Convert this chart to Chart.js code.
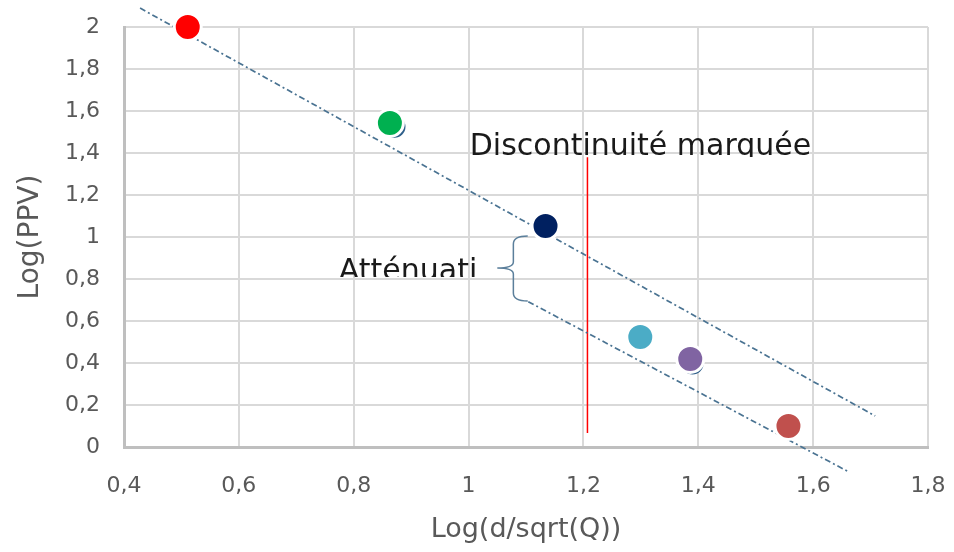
<!DOCTYPE html>
<html>
<head>
<meta charset="utf-8">
<script src="https://cdn.jsdelivr.net/npm/chart.js@4"></script>
<style>
  html, body { margin: 0; padding: 0; background: #fff; }
  canvas { display: block; }
</style>
</head>
<body>
<canvas id="chart" width="954" height="552"></canvas>
<script>
// mesures (x = Log(d/sqrt(Q)), y = Log(PPV))
const pointX = [0.511, 0.863, 1.134, 1.299, 1.386, 1.557];
const pointY = [2.0, 1.543, 1.052, 0.524, 0.419, 0.10];
const pointColors = ["#ff0000", "#00b050", "#002060", "#4bacc6", "#8064a2", "#c0504d"];

// petites ombres sombres derrière deux points
const shadowX = [0.871, 1.390];
const shadowY = [1.525, 0.398];

// droites d'atténuation (début, fin)
const upperLineX = [0.428, 1.708];
const upperLineY = [2.09, 0.148];
const lowerLineX = [1.104, 1.663];
const lowerLineY = [0.692, -0.12];

// discontinuité
const breakX = [1.207, 1.207];
const breakY = [0.067, 1.38];

// accolade : x bout, x dos, x pointe / y haut, milieu, bas
const braceX = [1.103, 1.078, 1.050];
const braceY = [1.005, 0.852, 0.695];

const xTickLabels = ["0,4", "0,6", "0,8", "1", "1,2", "1,4", "1,6", "1,8"];
const yTickLabels = ["0", "0,2", "0,4", "0,6", "0,8", "1", "1,2", "1,4", "1,6", "1,8", "2"];

const toPts = (xs, ys) => xs.map((x, i) => ({ x: x, y: ys[i] }));

const dashStyle = {
  borderColor: "#4a7392",
  borderWidth: 1.7,
  borderDash: [6, 3, 2, 3],
  pointRadius: 0,
  showLine: true,
  fill: false,
  clip: false
};

const annotations = {
  id: "annotations",
  afterDatasetsDraw(chart) {
    const c = chart.ctx;
    const xs = chart.scales.x;
    const ys = chart.scales.y;

    // accolade
    const xe = xs.getPixelForValue(braceX[0]);
    const xb = xs.getPixelForValue(braceX[1]);
    const xt = xs.getPixelForValue(braceX[2]);
    const yt = ys.getPixelForValue(braceY[0]);
    const ym = ys.getPixelForValue(braceY[1]);
    const yb = ys.getPixelForValue(braceY[2]);
    c.save();
    c.strokeStyle = "#5b7f9b";
    c.lineWidth = 1.5;
    c.beginPath();
    c.moveTo(xe, yt);
    c.quadraticCurveTo(xb, yt, xb, yt + 8);
    c.lineTo(xb, ym - 6);
    c.quadraticCurveTo(xb, ym, xt, ym);
    c.quadraticCurveTo(xb, ym, xb, ym + 6);
    c.lineTo(xb, yb - 8);
    c.quadraticCurveTo(xb, yb, xe, yb);
    c.stroke();
    c.restore();

    // textes (coupés comme dans la figure)
    c.save();
    c.font = "30px 'DejaVu Sans'";
    c.fillStyle = "#1a1a1a";
    c.textBaseline = "alphabetic";
    let x0 = xs.getPixelForValue(1.002);
    let y0 = ys.getPixelForValue(1.39);
    c.save();
    c.beginPath();
    c.rect(x0 - 5, y0 - 40, 400, 42);
    c.clip();
    c.fillText("Discontinuité marquée", x0, y0);
    c.restore();

    x0 = xs.getPixelForValue(0.774);
    y0 = ys.getPixelForValue(0.795);
    c.save();
    c.beginPath();
    c.rect(x0 - 5, y0 - 30, xs.getPixelForValue(1.016) - x0 + 5, 27);
    c.clip();
    c.fillText("Atténuation", x0, y0);
    c.restore();
    c.restore();
  }
};

new Chart(document.getElementById("chart").getContext("2d"), {
  type: "scatter",
  data: {
    datasets: [
      {
        label: "mesures",
        data: toPts(pointX, pointY),
        backgroundColor: pointColors,
        borderColor: "#ffffff",
        borderWidth: 3,
        pointRadius: 13.5,
        clip: false
      },
      {
        label: "ombre",
        data: toPts(shadowX, shadowY),
        backgroundColor: "#2f5f8a",
        borderWidth: 0,
        pointRadius: 11,
        clip: false
      },
      Object.assign({ label: "haut", data: toPts(upperLineX, upperLineY) }, dashStyle),
      Object.assign({ label: "bas", data: toPts(lowerLineX, lowerLineY) }, dashStyle),
      {
        label: "discontinuité",
        data: toPts(breakX, breakY),
        showLine: true,
        borderColor: "#ff0000",
        borderWidth: 1.5,
        pointRadius: 0
      }
    ]
  },
  options: {
    responsive: false,
    animation: false,
    layout: { autoPadding: false, padding: { top: 27, right: 26, left: 0, bottom: 0 } },
    plugins: {
      legend: { display: false },
      tooltip: { enabled: false }
    },
    scales: {
      x: {
        type: "linear",
        min: 0.4,
        max: 1.8,
        afterFit: (s) => { s.height = 105; },
        ticks: {
          stepSize: 0.2,
          padding: 0,
          color: "#595959",
          font: { family: "'DejaVu Sans'", size: 22 },
          callback: (v, i) => xTickLabels[i]
        },
        grid: { color: "#d9d9d9", lineWidth: 2, drawTicks: true, tickLength: 26, tickColor: "rgba(0,0,0,0)" },
        border: { color: "#bfbfbf", width: 3 },
        title: {
          display: true,
          text: "Log(d/sqrt(Q))",
          color: "#595959",
          font: { family: "'DejaVu Sans'", size: 27 },
          padding: { top: 0, bottom: 6 }
        }
      },
      y: {
        min: 0,
        max: 2,
        afterFit: (s) => { s.width = 124; },
        ticks: {
          stepSize: 0.2,
          padding: 0,
          color: "#595959",
          font: { family: "'DejaVu Sans'", size: 22 },
          callback: (v, i) => yTickLabels[i]
        },
        grid: { color: "#d9d9d9", lineWidth: 2, drawTicks: true, tickLength: 24, tickColor: "rgba(0,0,0,0)" },
        border: { color: "#bfbfbf", width: 3 },
        title: {
          display: true,
          text: "Log(PPV)",
          color: "#595959",
          font: { family: "'DejaVu Sans'", size: 28 },
          padding: { top: 14, bottom: 0 }
        }
      }
    }
  },
  plugins: [annotations]
});
</script>
</body>
</html>
